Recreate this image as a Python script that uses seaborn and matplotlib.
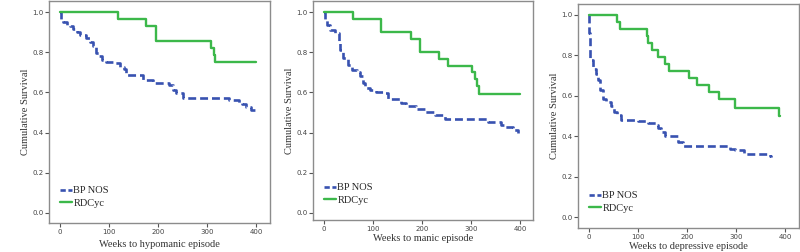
import matplotlib
matplotlib.use("Agg")
import matplotlib.pyplot as plt
import pandas as pd
import seaborn as sns

# survival curves (weeks, cumulative survival)
hypo_bp_weeks = [0, 3, 7, 14, 20, 27, 34, 41, 54, 61, 68, 74, 80, 85, 95, 108, 122, 130, 135, 150, 169, 189, 223, 230, 237, 250, 345, 357, 365, 370, 379, 390, 400]
hypo_bp_surv = [1.0, 0.96, 0.952, 0.935, 0.93, 0.915, 0.9, 0.888, 0.87, 0.852, 0.83, 0.794, 0.78, 0.761, 0.75, 0.745, 0.728, 0.715, 0.687, 0.687, 0.662, 0.645, 0.637, 0.61, 0.596, 0.571, 0.562, 0.56, 0.548, 0.54, 0.529, 0.51, 0.504]
hypo_rd_weeks = [0, 118, 175, 195, 308, 313, 317, 400]
hypo_rd_surv = [1.0, 0.964, 0.929, 0.857, 0.821, 0.786, 0.75, 0.75]

manic_bp_weeks = [0, 2, 7, 13, 23, 30, 33, 40, 50, 57, 67, 74, 80, 84, 94, 107, 124, 130, 157, 167, 187, 207, 227, 247, 334, 361, 368, 385, 395]
manic_bp_surv = [1.0, 0.96, 0.935, 0.91, 0.894, 0.853, 0.81, 0.77, 0.737, 0.71, 0.70, 0.68, 0.646, 0.62, 0.613, 0.604, 0.596, 0.566, 0.546, 0.53, 0.517, 0.505, 0.488, 0.467, 0.455, 0.44, 0.43, 0.414, 0.397]
manic_rd_weeks = [0, 59, 116, 117, 177, 195, 235, 253, 301, 308, 312, 316, 400]
manic_rd_surv = [1.0, 0.967, 0.933, 0.90, 0.867, 0.80, 0.767, 0.733, 0.70, 0.667, 0.633, 0.59, 0.59]

dep_bp_weeks = [0, 1, 3, 8, 15, 18, 23, 28, 35, 45, 51, 58, 65, 101, 121, 138, 141, 148, 155, 181, 191, 268, 288, 298, 315, 368, 371]
dep_bp_surv = [1.0, 0.91, 0.776, 0.734, 0.71, 0.677, 0.627, 0.586, 0.569, 0.548, 0.52, 0.503, 0.482, 0.474, 0.465, 0.457, 0.44, 0.42, 0.40, 0.37, 0.352, 0.35, 0.337, 0.33, 0.31, 0.30, 0.295]
dep_rd_weeks = [0, 58, 63, 118, 121, 129, 141, 156, 163, 205, 220, 245, 265, 298, 388, 390]
dep_rd_surv = [1.0, 0.966, 0.931, 0.897, 0.862, 0.828, 0.793, 0.759, 0.724, 0.69, 0.655, 0.621, 0.586, 0.541, 0.50, 0.50]

groups = ["BP NOS", "RDCyc"]
x_labels = ["Weeks to hypomanic episode", "Weeks to manic episode", "Weeks to depressive episode"]

panels = [
    (hypo_bp_weeks, hypo_bp_surv, hypo_rd_weeks, hypo_rd_surv),
    (manic_bp_weeks, manic_bp_surv, manic_rd_weeks, manic_rd_surv),
    (dep_bp_weeks, dep_bp_surv, dep_rd_weeks, dep_rd_surv),
]

sns.set_theme(style="white")
plt.rcParams['font.family'] = ['Liberation Serif', 'DejaVu Serif']

W, H = 800, 252
# frame boxes in pixels: left, right, top, bottom ; and limits
boxes = [(49, 270, 1, 223), (313, 533, 1, 220), (578, 799, 4, 228)]
xlims = [(-22, 428), (-22, 426), (-22, 428)]
ylims = [(-0.05, 1.055), (-0.035, 1.055), (-0.054, 1.054)]
xpads = [4, 1.5, 1.5]

blue = "#3852b0"
green = "#3cb84a"
frame_col = "#8c8c8c"

fig = plt.figure(figsize=(W / 100, H / 100), dpi=100)

for i, (bw, bs, rw, rs) in enumerate(panels):
    l, r, t, b = boxes[i]
    ax = fig.add_axes([l / W, 1 - b / H, (r - l) / W, (b - t) / H])
    d_bp = pd.DataFrame({"weeks": bw, "surv": bs})
    d_rd = pd.DataFrame({"weeks": rw, "surv": rs})
    sns.lineplot(data=d_bp, x="weeks", y="surv", ax=ax, color=blue, linewidth=1.9,
                 drawstyle="steps-post", estimator=None, sort=False, label=groups[0])
    sns.lineplot(data=d_rd, x="weeks", y="surv", ax=ax, color=green, linewidth=1.7,
                 drawstyle="steps-post", estimator=None, sort=False, label=groups[1])
    ax.lines[0].set_dashes((3.0, 1.5))
    ax.set_xlim(*xlims[i])
    ax.set_ylim(*ylims[i])
    ax.set_xticks([0, 100, 200, 300, 400])
    ax.set_yticks([0.0, 0.2, 0.4, 0.6, 0.8, 1.0])
    ax.set_yticklabels([f"{v:.1f}" for v in [0.0, 0.2, 0.4, 0.6, 0.8, 1.0]])
    ax.tick_params(axis="both", which="both", direction="out", length=3, width=0.8,
                   color="#555555", labelsize=5, labelcolor="#444444", pad=1,
                   left=True, bottom=True)
    for lab in ax.get_xticklabels() + ax.get_yticklabels():
        lab.set_family("DejaVu Sans")
    for s in ax.spines.values():
        s.set_color(frame_col)
        s.set_linewidth(1.0)
    ax.set_xlabel(x_labels[i], fontsize=7.5, color="#333333", labelpad=xpads[i])
    ax.set_ylabel("Cumulative Survival", fontsize=7.5, color="#333333", labelpad=1.5)
    leg = ax.legend(loc="lower left", frameon=False, fontsize=7.5, handlelength=1.2,
                    handletextpad=0.1, labelspacing=0.3, borderaxespad=0.0,
                    bbox_to_anchor=(0.03, 0.05))
    leg.get_lines()[0].set_dashes((2.0, 1.0))

fig.savefig("out.png", dpi=100)
